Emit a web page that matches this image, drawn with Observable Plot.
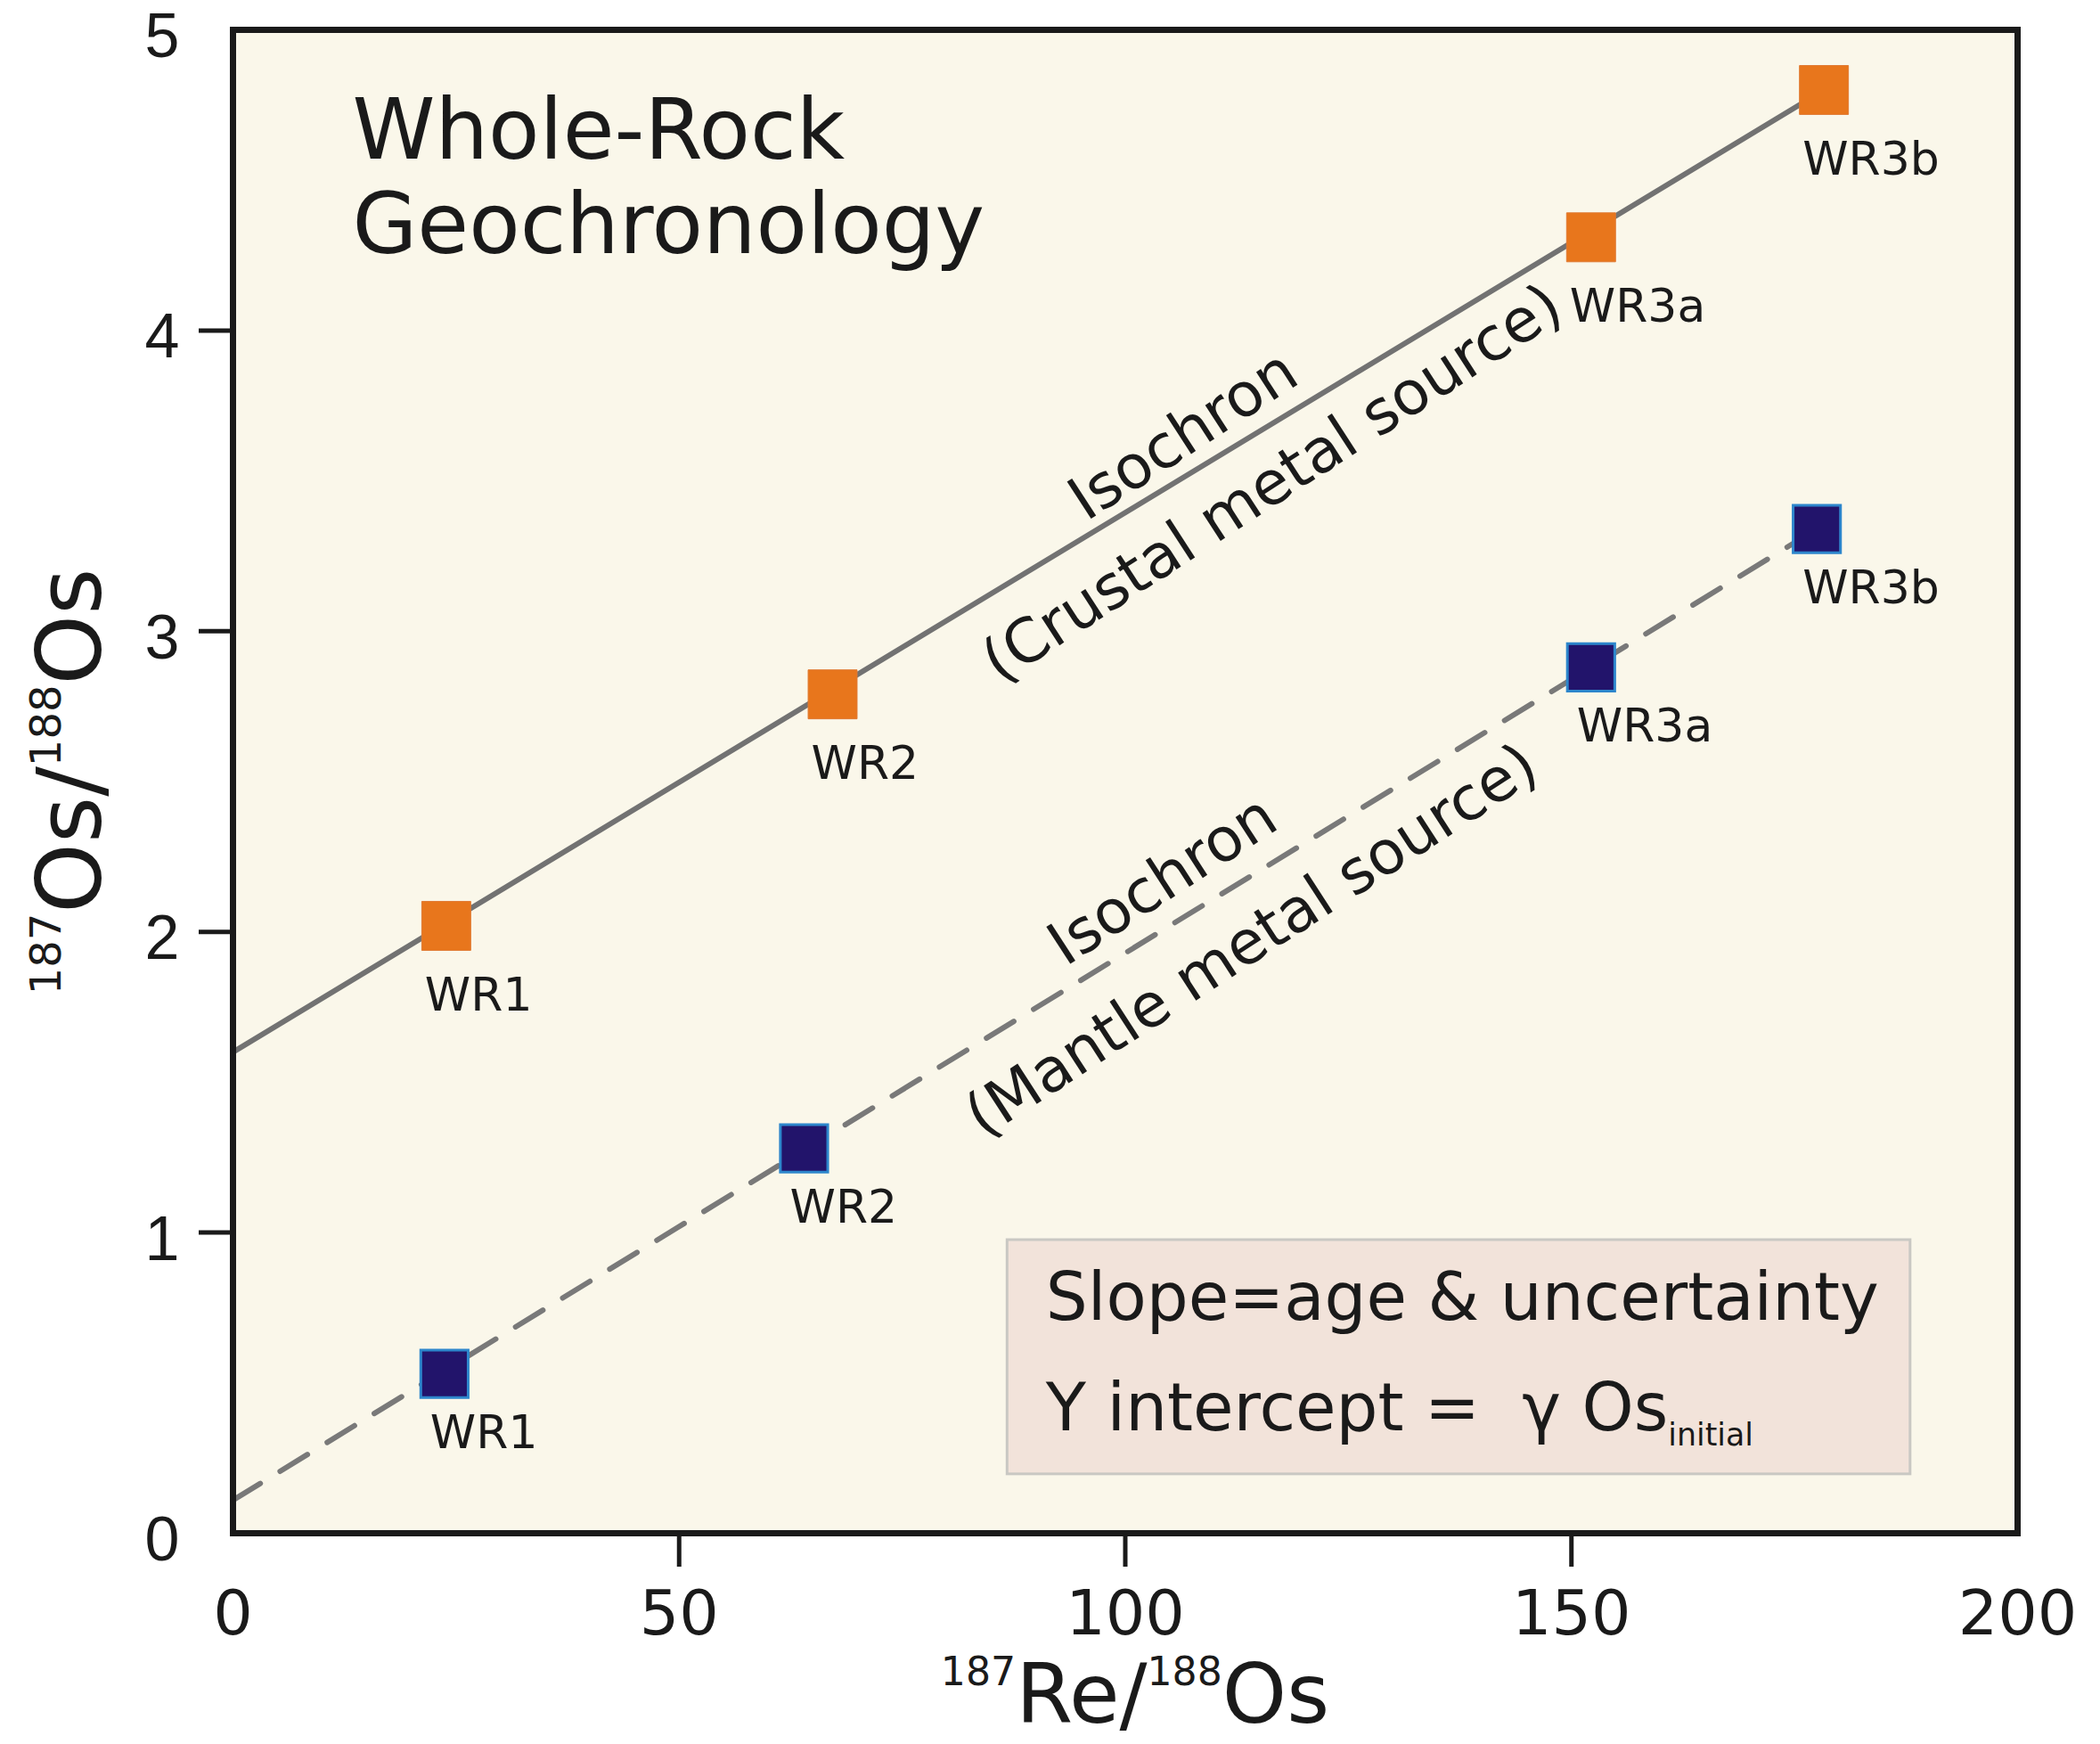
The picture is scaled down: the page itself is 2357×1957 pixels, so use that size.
<!DOCTYPE html>
<html><head><meta charset="utf-8">
<script src="https://cdn.jsdelivr.net/npm/d3@7"></script>
<script src="https://cdn.jsdelivr.net/npm/@observablehq/plot@0.6"></script>
<style>
html,body{margin:0;padding:0;background:#fff;}
#chart svg{display:block;}
#chart g[aria-label="y-axis tick label"] text{font-family:"Liberation Sans",sans-serif;}
</style></head><body><div id="chart"></div>
<script>
// ---- data ----
const samples = ["WR1", "WR2", "WR3a", "WR3b"];
const crustalX = [23.9, 67.2, 152.2, 178.3];
const crustalY = [2.02, 2.79, 4.31, 4.80];
const mantleX = [23.7, 64.0, 152.2, 177.5];
const mantleY = [0.53, 1.28, 2.88, 3.34];
const crustalIntercept = 1.60;
const mantleIntercept = 0.11;
const xTicks = [0, 50, 100, 150, 200];
const yTicks = [0, 1, 2, 3, 4, 5];
const xTitle = "<sup>187</sup>Re/<sup>188</sup>Os";
const yTitle = "<sup>187</sup>Os/<sup>188</sup>Os";
const titleLines = ["Whole-Rock", "Geochronology"];
const isoText = ["Isochron", "(Crustal metal source)", "Isochron", "(Mantle metal source)"];
const isoX = [106.5, 116.5, 104.2, 114.2];
const isoY = [3.65, 3.49, 2.17, 1.97];
const boxLines = ["Slope=age & uncertainty", "Y intercept =  γ Os<sub>initial</sub>"];
const boxX = [86.8, 188.0];
const boxY = [0.196, 0.975];
const boxTextX = 91.1;
const boxTextY = [0.711, 0.341];

// ---- tables built from the arrays ----
const crustal = samples.map((s, i) => ({name: s, x: crustalX[i], y: crustalY[i]}));
const mantle = samples.map((s, i) => ({name: s, x: mantleX[i], y: mantleY[i]}));
const last = samples.length - 1;
const crustalLine = [{x: 0, y: crustalIntercept}, {x: crustalX[last], y: crustalY[last]}];
const mantleLine = [{x: 0, y: mantleIntercept}, {x: mantleX[last], y: mantleY[last]}];
const box = [{x1: boxX[0], x2: boxX[1], y1: boxY[0], y2: boxY[1]}];

const FONT = "DejaVu Sans";
const INK = "#1a1a1a";

const chart = Plot.plot({
  width: 2357,
  height: 1957,
  marginLeft: 261,
  marginRight: 93,
  marginTop: 33,
  marginBottom: 237,
  x: {domain: [0, 200]},
  y: {domain: [0, 5]},
  style: {fontFamily: FONT, color: INK, background: "#ffffff"},
  marks: [
    Plot.frame({fill: "#faf7ea", stroke: "none"}),
    Plot.rect(box, {x1: "x1", x2: "x2", y1: "y1", y2: "y2", fill: "#f2e3da", stroke: "#c9c8c3", strokeWidth: 3}),
    Plot.line(crustalLine, {x: "x", y: "y", stroke: "#727272", strokeWidth: 6}),
    Plot.line(mantleLine, {x: "x", y: "y", stroke: "#797979", strokeWidth: 6, strokeDasharray: "36,26"}),
    Plot.dot(crustal, {x: "x", y: "y", symbol: "square", r: 31, fill: "#e8761c", stroke: "#e07a33", strokeWidth: 1}),
    Plot.dot(mantle, {x: "x", y: "y", symbol: "square", r: 30, fill: "#22146b", stroke: "#2d86cc", strokeWidth: 3}),
    Plot.text(crustal, {x: "x", y: "y", text: "name", textAnchor: "start", dx: -24, dy: 78, fontSize: 52, fill: INK, ariaLabel: "sample label"}),
    Plot.text(mantle, {x: "x", y: "y", text: "name", textAnchor: "start", dx: -16, dy: 67, fontSize: 52, fill: INK, ariaLabel: "sample label"}),
    Plot.text(isoText, {x: (d, i) => isoX[i], y: (d, i) => isoY[i], text: d => d, rotate: -33, fontSize: 68, fill: INK, ariaLabel: "isochron label"}),
    Plot.text([titleLines.join("\n")], {frameAnchor: "top-left", text: d => d, textAnchor: "start", lineAnchor: "top", lineHeight: 1.12, dx: 134, dy: 70, fontSize: 94, fill: INK, ariaLabel: "panel title"}),
    Plot.text(boxLines, {x: () => boxTextX, y: (d, i) => boxTextY[i], text: d => d, textAnchor: "start", lineAnchor: "bottom", fontSize: 74, fill: INK, ariaLabel: "box text"}),
    Plot.text([xTitle], {frameAnchor: "bottom", text: d => d, textAnchor: "middle", lineAnchor: "bottom", dx: 11, dy: 212, fontSize: 92, fill: INK}),
    Plot.text([yTitle], {frameAnchor: "left", text: d => d, rotate: -90, textAnchor: "middle", lineAnchor: "bottom", dx: -149, dy: 0, fontSize: 100, fill: INK}),
    Plot.axisX({ticks: xTicks, tickSize: 0, tickPadding: 64, fontSize: 70, tickFormat: d => String(d), label: null}),
    Plot.axisX({ticks: xTicks.slice(1, -1), tickSize: 38, tickFormat: () => "", strokeWidth: 5, label: null}),
    Plot.axisY({ticks: yTicks, tickSize: 0, tickPadding: 60, fontSize: 70, dy: 8, tickFormat: d => String(d), label: null}),
    Plot.axisY({ticks: yTicks.slice(1, -1), tickSize: 38, tickFormat: () => "", strokeWidth: 5, label: null}),
    Plot.frame({stroke: INK, strokeWidth: 7})
  ]
});

// turn <sup>/<sub> markup into real tspans
function richText(svg) {
  svg.querySelectorAll("text").forEach(t => {
    const s = t.textContent;
    if (!/<(sup|sub)>/.test(s)) return;
    const holder = t.closest("[font-size]");
    const fs = holder ? parseFloat(holder.getAttribute("font-size")) : 16;
    t.textContent = "";
    const parts = s.split(/(<sup>.*?<\/sup>|<sub>.*?<\/sub>)/).filter(p => p);
    let shift = 0;
    for (const p of parts) {
      const m = p.match(/^<(sup|sub)>(.*)<\/\1>$/);
      const ts = document.createElementNS("http://www.w3.org/2000/svg", "tspan");
      let size = fs, target = 0;
      if (m) {
        size = m[1] === "sup" ? fs * 0.48 : fs * 0.47;
        target = m[1] === "sup" ? -0.45 * fs : 0.22 * fs;
        ts.textContent = m[2];
      } else {
        ts.textContent = p;
      }
      ts.setAttribute("font-size", size);
      if (target - shift !== 0) ts.setAttribute("dy", target - shift);
      shift = target;
      t.appendChild(ts);
    }
  });
}
function spacing(svg, label, px) {
  svg.querySelectorAll(`g[aria-label="${label}"] text`).forEach(t => t.setAttribute("letter-spacing", px));
}
richText(chart);
spacing(chart, "sample label", 3.5);
spacing(chart, "panel title", 3);
spacing(chart, "box text", 1);
spacing(chart, "isochron label", 1);
document.getElementById("chart").appendChild(chart);
</script>
</body></html>
